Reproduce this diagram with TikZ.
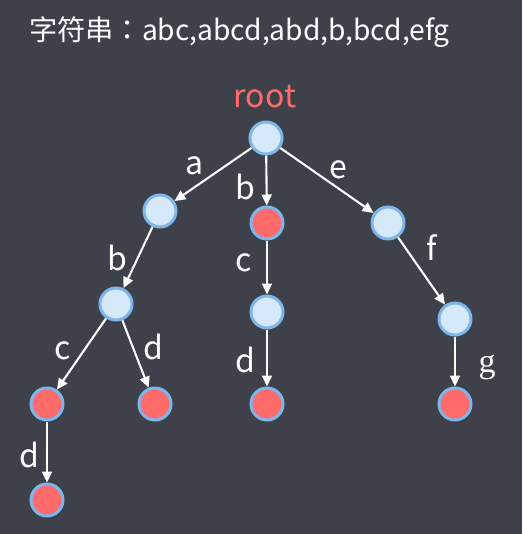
\documentclass[tikz,border=0pt]{standalone}
\usepackage{fontspec}
\setmainfont{Noto Sans CJK SC}
\newfontfamily\colonfont{Noto Sans CJK TC}
\newfontfamily\glabelfont{Liberation Serif}
\usetikzlibrary{arrows.meta}

\definecolor{bgdark}{HTML}{3E4149}
\definecolor{nodeblue}{HTML}{D6E9FB}
\definecolor{rimblue}{HTML}{7DB6EC}
\definecolor{endred}{HTML}{FF6B6B}

\tikzset{
    inner/.style={circle, fill=nodeblue, draw=rimblue, line width=3pt, minimum size=32pt, inner sep=0pt},
    leaf/.style={inner, fill=endred},
    edge/.style={white, line width=2.1pt, -{Triangle[length=11pt, width=10pt]}},
    lbl/.style={white, inner sep=0pt, font=\fontsize{32}{34}\selectfont}
}

\begin{document}
\begin{tikzpicture}[x=1pt, y=-1pt]
    \fill[bgdark] (0, 0) rectangle (522, 534);
    \useasboundingbox (0, 0) rectangle (522, 534);

    % Title
    \node[lbl, anchor=west, font=\fontsize{28.2}{30}\selectfont] (title) at (29, 32) {字符串{\colonfont ：}abc,abcd,abd,b,bcd,efg};
    \node[lbl, text=endred] (rootlbl) at (265, 97) {root};

    % Trie nodes
    \node[inner] (root) at (266, 138) {};
    \node[inner] (na) at (160, 211) {};
    \node[leaf]  (nb) at (267, 223) {};
    \node[inner] (ne) at (388, 223) {};
    \node[inner] (nab) at (116, 304) {};
    \node[inner] (nbc) at (267, 312) {};
    \node[inner] (nef) at (455, 319) {};
    \node[leaf]  (nabc) at (47, 404) {};
    \node[leaf]  (nabd) at (155, 404) {};
    \node[leaf]  (nbcd) at (267, 404) {};
    \node[leaf]  (nefg) at (455, 404) {};
    \node[leaf]  (nabcd) at (47, 500) {};

    % Edges
    \draw[edge] (root) -- (na);
    \draw[edge] (root) -- (nb);
    \draw[edge] (root) -- (ne);
    \draw[edge] (na) -- (nab);
    \draw[edge] (nab) -- (nabc);
    \draw[edge] (nab) -- (nabd);
    \draw[edge] (nabc) -- (nabcd);
    \draw[edge] (nb) -- (nbc);
    \draw[edge] (nbc) -- (nbcd);
    \draw[edge] (ne) -- (nef);
    \draw[edge] (nef) -- (nefg);

    % Edge labels
    \node[lbl] (la) at (195, 166) {a};
    \node[lbl] (lb) at (245, 187) {b};
    \node[lbl] (le) at (338, 170) {e};
    \node[lbl] (lab) at (117, 258) {b};
    \node[lbl] (lbc) at (244, 263) {c};
    \node[lbl] (lef) at (432, 248) {f};
    \node[lbl] (labc) at (63, 351) {c};
    \node[lbl] (labd) at (153, 347) {d};
    \node[lbl] (lbcd) at (245, 360) {d};
    \node[lbl, font=\glabelfont\fontsize{34}{36}\selectfont] (lefg) at (487, 367) {g};
    \node[lbl] (labcd) at (29, 455) {d};
\end{tikzpicture}
\end{document}
